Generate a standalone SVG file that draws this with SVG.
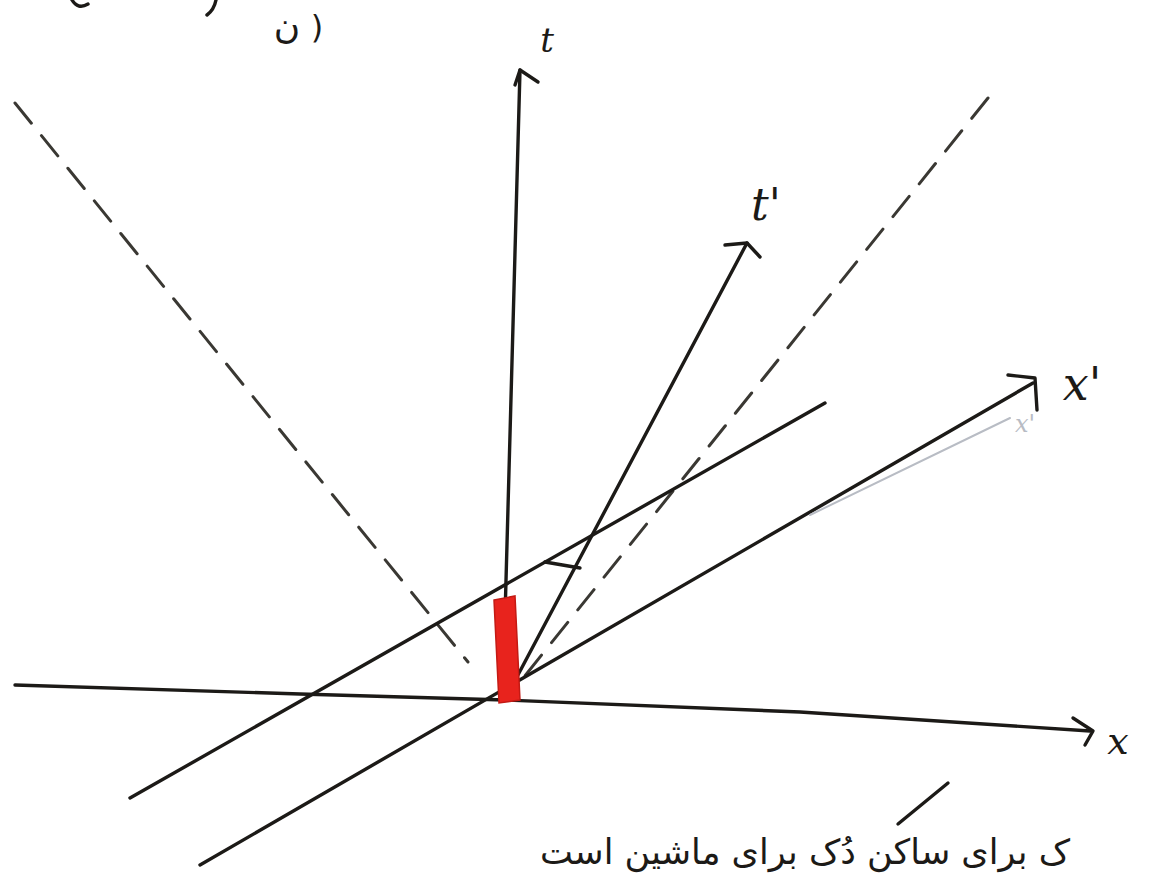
<svg xmlns="http://www.w3.org/2000/svg" width="1151" height="877" viewBox="0 0 1151 877">
<style>
.ln{fill:none;stroke:#1c1a17;stroke-width:3.4;stroke-linecap:round;stroke-linejoin:round}
.ds{fill:none;stroke:#3a3833;stroke-width:3;stroke-dasharray:26 16;stroke-linecap:round}
.ghost{fill:none;stroke:#b8bcc4;stroke-width:2;stroke-linecap:round}
.lbl{font-family:"DejaVu Serif","Liberation Serif",serif;font-style:italic;fill:#1c1a17}
.fa{font-family:"DejaVu Sans","Noto Sans",sans-serif;fill:#1c1a17}
</style>
<rect width="1151" height="877" fill="#ffffff"/>
<g id="header">
<path class="ln" d="M72 0 Q78 10 88 4"/>
<path class="ln" d="M216 0 Q214 10 207 15"/>
<text class="fa" x="287" y="38" font-size="36" text-anchor="middle">ن</text>
<text class="fa" x="317" y="38" font-size="32" text-anchor="middle">)</text>
</g>
<g id="connectors">
<path class="ds" d="M15 103 L468 662"/>
<path class="ds" d="M988 98 L520 682"/>
<path class="ln" d="M15 685 L300 694 L505 700 L800 712 L1090 731"/>
<path class="ln" d="M1073 718 L1093 731 L1085 745"/>
<path class="ln" d="M503 690 L520 70"/>
<path class="ln" d="M515 85 L520 70 L538 82"/>
<path class="ln" d="M510 690 L747 243"/>
<path class="ln" d="M725 245 L747 243 L760 257"/>
<path class="ln" d="M200 865 L1033 383"/>
<path class="ln" d="M1008 375 L1035 378 L1037 410"/>
<path class="ln" d="M130 798 L825 403"/>
<path class="ln" d="M545 562 L580 568"/>
<path class="ghost" d="M810 515 L1010 418"/>
</g>
<g id="red-bar">
<polygon points="494,600 515,596 520,700 499,703" fill="#e8231d" stroke="#c41a14" stroke-width="1.5"/>
</g>
<g id="labels">
<text class="lbl" x="547" y="52" font-size="34" text-anchor="middle">t</text>
<text class="lbl" x="766" y="220" font-size="44" text-anchor="middle">t'</text>
<text class="lbl" x="1082" y="400" font-size="46" text-anchor="middle">x'</text>
<text class="lbl" x="1025" y="432" font-size="24" text-anchor="middle" style="fill:#b8bcc4">x'</text>
<text class="lbl" x="1118" y="754" font-size="38" text-anchor="middle">x</text>
</g>
<g id="caption">
<path class="ln" d="M898 824 L948 783"/>
<text class="fa" x="1070" y="864" font-size="35" text-anchor="end">ک برای ساکن  دُک برای ماشین است</text>
</g>
</svg>
